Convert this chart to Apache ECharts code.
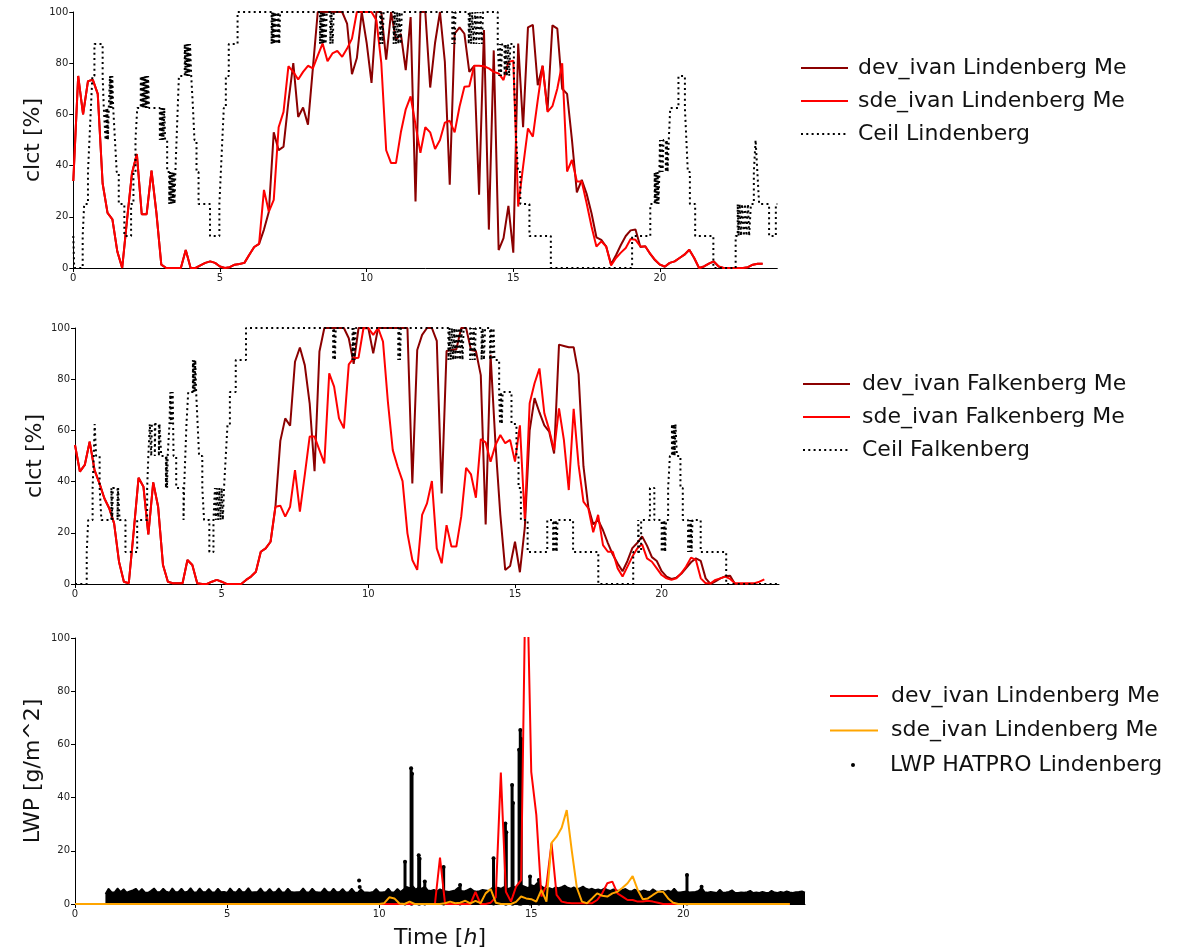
<!DOCTYPE html>
<html><head><meta charset="utf-8">
<script src="https://cdn.jsdelivr.net/npm/echarts@6/dist/echarts.min.js"></script>
<style>html,body{margin:0;padding:0;background:#fff}#c{width:1198px;height:950px}</style>
</head><body><div id="c"></div>
<script>
// ---- time step of model output (hours) ----
const MODEL_STEP_H = 1 / 6;
const xTicks = [0, 5, 10, 15, 20];

// ---- Panel 1 : Lindenberg cloud cover [%] ----
const devLind = [34,75,60,73,73.5,68,33,21.5,19,6.5, 0,19,37,44.5,21,21,38,21.5,1.3,0,
  0,0,0,7,0,0,1,2,2.6,2, 0.6,0,0.3,1.3,1.6,2,5.2,8.2,9.4,15,
  22,53,46,47.4,65,80,59,62.7,56,78, 100,100,100,100,100,100,95.5,75.7,82,100,
  88,72.3,100,100,81.4,100,89,91.5,77.3,98, 26,100,100,70.5,88,100,80.5,32.5,91.5,94,
  91.5,76.6,79,28.6,93,15,85,7,11.7,24.3, 6,87.7,55,94,95,71.4,79,61.7,94.8,93.5,
  70,68,50,29.5,34.4,29,21.4,12,11,8.4, 1.5,5,9,12.5,14.7,15,8.2,8.5,5.5,3,
  1.3,0.5,2,2.6,3.9,5.2,7.1,3.9,0,0.6, 1.7,2.6,0.6,0,0,0,0,0,0.3,1.3, 1.7,1.7];
const sdeLind = [34,75,60,73,73.5,68,33,21.5,19,6.5, 0,19,37,44.5,21,21,38,21.5,1.3,0,
  0,0,0,7,0,0,1,2,2.6,2, 0.6,0,0.3,1.3,1.6,2,5.2,8.2,9.4,30.5,
  22,26.6,55,61,78.8,76.6,73.6,76.6,79,78, 83,87.7,80.8,83.8,84.8,82.5,85.7,89.6,100,100,
  100,100,96.8,80,46,41,41,53,62,67, 56,45,55,53,46.5,50,56.8,57.5,53,63,
  70.8,71,79,79,78.8,78,76.6,76,73.4,80.5, 81,24,39.6,54.5,51.3,65.6,79,61,63.2,70,
  80,37.7,42.2,33.8,33.8,25.3,16.2,8.4,10.4,8.4, 1,3.9,6,7.8,11.3,11,8.4,8.4,5.6,3.2,
  1.3,0.6,2,2.6,3.9,5.2,7.1,3.9,0,0.6, 1.7,2.6,0.6,0,0,0,0,0,0.3,1.3, 1.7,1.7];
// ceilometer: [hour, value] held until next entry
const ceilLind = [[0,12.5],[0.03,0],[0.32,12.5],[0.37,25],[0.5,37.5],[0.55,50],[0.6,62.5],[0.65,75],[0.72,87.5],
  [1.0,75],[1.04,62.5],[1.1,50],[1.12,62.5],[1.14,50],[1.16,62.5],[1.18,50],[1.21,62.5],[1.25,75],[1.27,62.5],[1.29,75],[1.31,62.5],[1.33,75],[1.36,62.5],
  [1.42,50],[1.48,37.5],[1.55,25],[1.74,12.5],[1.97,25],[2.05,37.5],[2.12,50],[2.18,62.5],
  [2.3,75],[2.33,62.5],[2.35,75],[2.38,62.5],[2.4,75],[2.43,62.5],[2.45,75],[2.48,62.5],[2.5,75],[2.53,62.5],[2.55,75],[2.58,62.5],
  [2.95,50],[2.98,62.5],[3.01,50],[3.04,62.5],[3.07,50],[3.1,62.5],[3.13,50],[3.2,37.5],[3.27,25],[3.3,37.5],[3.33,25],[3.36,37.5],[3.39,25],[3.42,37.5],[3.45,25],[3.48,37.5],
  [3.52,50],[3.56,62.5],[3.6,75],[3.8,87.5],[3.83,75],[3.86,87.5],[3.89,75],[3.92,87.5],[3.95,75],[3.98,87.5],[4.02,75],[4.08,62.5],[4.13,50],[4.2,37.5],[4.27,25],
  [4.66,12.5],[4.98,25],[5.03,37.5],[5.08,50],[5.13,62.5],[5.2,75],[5.3,87.5],[5.6,100],
  [6.76,87.5],[6.78,100],[6.8,87.5],[6.82,100],[6.84,87.5],[6.87,100],[6.9,87.5],[6.93,100],[6.96,87.5],[6.99,100],[7.02,87.5],[7.05,100],
  [8.41,87.5],[8.44,100],[8.47,87.5],[8.5,100],[8.53,87.5],[8.56,100],[8.6,87.5],[8.64,100],[8.76,87.5],[8.8,100],[8.84,87.5],[8.88,100],
  [10.46,87.5],[10.5,100],[10.54,87.5],[10.58,100],[10.92,87.5],[10.96,100],[11.0,87.5],[11.04,100],[11.08,87.5],[11.12,100],[11.16,87.5],[11.2,100],
  [12.92,87.5],[12.96,100],[13.0,87.5],[13.03,100],
  [13.48,87.5],[13.52,100],[13.56,87.5],[13.6,100],[13.65,87.5],[13.7,100],[13.74,87.5],[13.78,100],[13.84,87.5],[13.88,100],[13.93,87.5],[13.97,100],
  [14.47,87.5],[14.52,75],[14.55,87.5],[14.58,75],[14.62,87.5],[14.7,75],[14.74,87.5],[14.78,75],[14.82,87.5],[14.86,75],[14.9,87.5],
  [15.02,75],[15.06,62.5],[15.1,50],[15.16,37.5],[15.24,25],[15.55,12.5],[16.28,0],[19.05,12.5],[19.67,25],
  [19.82,37.5],[19.84,25],[19.87,37.5],[19.89,25],[19.92,37.5],[19.95,25],[19.98,37.5],[20.0,50],[20.03,37.5],[20.06,50],[20.09,37.5],[20.12,50],[20.2,37.5],[20.23,50],[20.26,37.5],[20.3,50],
  [20.35,62.5],[20.63,75],[20.85,62.5],[20.9,50],[20.95,37.5],[21.02,25],[21.2,12.5],[21.82,0],[22.58,12.5],
  [22.65,25],[22.68,12.5],[22.72,25],[22.76,12.5],[22.8,25],[22.86,12.5],[22.9,25],[22.95,12.5],[23.0,25],[23.04,12.5],[23.1,25],
  [23.2,37.5],[23.26,50],[23.32,37.5],[23.38,25],[23.72,12.5],[23.95,25],[24,25]];

// ---- Panel 2 : Falkenberg cloud cover [%] ----
const devFalk = [54.3,43.9,46.5,55.6,44.5,39.3,33.5,29.6,23.7,8.7, 0.9,0.3,20.4,41.5,38,19.4,39.7,30.2,7.4,0.9,
  0.3,0.3,0.3,9.4,7.4,0.3,0,0,0.9,1.6, 0.9,0,0,0,0,1.6,2.9,4.8,12.6,13.9,
  16.5,30.2,55.9,64.7,61.8,86.8,92.4,85.5,70.6,44.1, 90.8,100,100,100,100,100,96,86,100,100,
  100,90.1,100,100,100,100,100,100,100,39.3, 91.4,97.3,100,100,95,35.4,91,91.4,91.7,100,
  100,91.4,91,81.6,23.3,89.5,55,27,5.5,7, 16.5,4.6,22,60,72.6,67,62,59.5,51,93.5,
  93,92.5,92.5,82,46,30,23.3,25,21,16, 11.5,8,5,9,14,16,18.6,15,10.5,9,
  5,2.9,2,2.5,4,6.2,8.5,10,9,2.2, 0,1,2.2,3,3.2,0,0,0,0];
const sdeFalk = [54.3,43.9,46.5,55.6,44.5,39.3,33.5,29.6,23.7,8.7, 0.9,0.3,20.4,41.5,38,19.4,39.7,30.2,7.4,0.9,
  0.3,0.3,0.3,9.4,7.4,0.3,0,0,0.9,1.6, 0.9,0,0,0,0,1.6,2.9,4.8,12.6,13.9,
  16.5,30.2,30.6,26.3,30.2,44.5,28.3,42.6,57.6,57.6, 52.3,47.1,82.3,77.1,64.7,60.8,85.8,88.2,88.4,99.9,
  100,97.3,100,94.7,71.2,52.3,45.8,40.2,19.8,9.4, 5.5,27,31.5,40.2,13.9,8.1,23,14.6,14.6,26.3,
  45.4,42.8,33.7,56.6,55.3,47.8,54.3,58.2,55,56.3, 47.8,62,25.4,70.6,78.4,84.2,66.7,60.2,52.3,68.6,
  56.3,36.7,68.4,46.5,32.2,29.6,20.2,27,15.2,12.6, 12.6,6.1,2.9,6.8,10.7,13.9,15.5,10,8.7,6.1,
  3.5,2.2,1.6,2.2,4.2,6.8,10.3,9.4,2.2,0.3, 0.3,1.6,2.2,2.9,2,0.3,0.3,0.3,0.3,0.3, 0.9,1.8];
const ceilFalk = [[0,0],[0.4,12.5],[0.45,25],[0.6,37.5],[0.64,50],[0.67,62.5],[0.72,50],[0.84,37.5],[0.9,25],
  [1.24,37.5],[1.27,25],[1.29,37.5],[1.45,25],[1.47,37.5],[1.52,25],[1.72,12.5],[2.12,25],[2.46,37.5],[2.5,50],[2.55,62.5],
  [2.6,50],[2.62,62.5],[2.72,50],[2.74,62.5],[2.86,50],[2.88,62.5],[2.94,50],[3.1,37.5],[3.12,50],[3.14,37.5],[3.16,50],
  [3.22,62.5],[3.25,75],[3.27,62.5],[3.29,75],[3.31,62.5],[3.33,75],[3.36,50],[3.45,37.5],[3.7,25],[3.72,37.5],[3.76,50],[3.8,62.5],[3.86,75],
  [4.02,87.5],[4.04,75],[4.06,87.5],[4.08,75],[4.1,87.5],[4.13,75],[4.18,62.5],[4.23,50],[4.34,37.5],[4.4,25],[4.58,12.5],[4.72,25],
  [4.77,37.5],[4.8,25],[4.84,37.5],[4.88,25],[4.92,37.5],[4.96,25],[5.0,37.5],[5.04,25],[5.08,37.5],[5.14,50],[5.2,62.5],[5.28,75],[5.48,87.5],[5.83,100],
  [8.8,87.5],[8.83,100],[8.86,87.5],[8.89,100],[9.46,87.5],[9.5,100],[9.53,87.5],[9.57,100],[11.02,87.5],[11.05,100],[11.08,87.5],[11.11,100],
  [12.73,87.5],[12.77,100],[12.81,87.5],[12.85,100],[12.89,87.5],[12.93,100],[12.97,87.5],[13.01,100],[13.05,87.5],[13.09,100],[13.13,87.5],[13.17,100],[13.21,87.5],[13.25,100],
  [13.47,87.5],[13.51,100],[13.55,87.5],[13.59,100],[13.63,87.5],[13.66,100],[13.86,87.5],[13.9,100],[13.94,87.5],[13.98,100],
  [14.15,87.5],[14.19,100],[14.23,87.5],[14.27,100],[14.3,87.5],[14.46,75],[14.49,62.5],[14.52,75],[14.55,62.5],[14.58,75],[14.88,62.5],
  [15.05,50],[15.12,37.5],[15.2,25],[15.43,12.5],[16.1,25],[16.3,12.5],[16.33,25],[16.36,12.5],[16.39,25],[16.42,12.5],[16.45,25],[16.98,12.5],
  [17.84,0],[19.03,12.5],[19.2,25],[19.23,12.5],[19.3,25],[19.6,37.5],[19.75,25],[20.0,12.5],[20.03,25],[20.06,12.5],[20.09,25],[20.12,12.5],[20.15,25],
  [20.22,37.5],[20.28,50],[20.35,62.5],[20.38,50],[20.41,62.5],[20.44,50],[20.47,62.5],[20.52,50],[20.64,37.5],[20.72,25],
  [20.9,12.5],[20.93,25],[20.96,12.5],[20.99,25],[21.02,12.5],[21.05,25],[21.33,12.5],[22.2,0],[24,0]];

// ---- Panel 3 : Lindenberg liquid water path [g/m^2] ----
const devLwp = [0,0,0,0,0,0,0,0,0,0, 0,0,0,0,0,0,0,0,0,0, 0,0,0,0,0,0,0,0,0,0, 0,0,0,0,0,0,0,0,0,0,
  0,0,0,0,0,0,0,0,0,0, 0,0,0,0,0,0,0,0,0,0, 0,0,0,0,0,0,0,0,0,0, 0,0,17.4,0,0,0,0,0,0,4.6,
  0,0,0.5,2.5,49.4,4.6,0.9,6.5,9,140, 49.7,33.5,2.8,7.1,22.8,3.4,0.9,0.5,0.3,0.3,
  0.3,0.3,0.3,1.5,4,7.8,8.4,4,2.8,1.5, 1.5,0.9,0.9,1.2,0.9,0.5,0,0,0,0,
  0,0,0,0,0,0,0,0,0,0, 0,0,0,0,0,0,0,0,0,0, 0,0];
const sdeLwp = [0,0,0,0,0,0,0,0,0,0, 0,0,0,0,0,0,0,0,0,0, 0,0,0,0,0,0,0,0,0,0, 0,0,0,0,0,0,0,0,0,0,
  0,0,0,0,0,0,0,0,0,0, 0,0,0,0,0,0,0,0,0,0, 0,0.3,2.5,2.1,0.2,0,0.9,0,0,0, 0,0,0,0.3,0.9,0.3,0.5,1.2,0.2,1.2,
  0.3,4,5.6,0.5,0,0,0,0.8,2.8,2.1, 1.8,0.9,5.3,0.9,23,25.3,28.7,35.3,20,6.1,
  0.9,0.3,2.1,4,3.1,2.8,4,4.6,6.1,7.8, 10.5,5.3,1.8,2.1,3.4,4.6,4.6,2.1,0.5,0,
  0,0,0,0,0,0,0,0,0,0, 0,0,0,0,0,0,0,0,0,0, 0,0];
// HATPRO: upper edge of the dense point cloud, every 0.1 h from 01:00
const hatBandStart = 1.0, hatBandStep = 0.1;
const hatBandTop = [3.8,5.8,4.5,4.4,5.9,4.6,5.6,4.3,4.8,5.2,
  5.8,4.5,5.7,4.4,4.3,5.0,5.9,4.5,4.6,5.8, 4.7,4.3,5.9,4.5,4.6,5.8,4.4,4.7,6.0,4.5,
  4.4,5.9,4.6,4.5,5.7,4.5,4.4,5.8,4.5,4.6, 4.3,5.9,4.6,4.4,5.8,4.5,4.6,6.0,4.4,4.5,
  4.6,5.9,4.4,4.5,5.7,4.4,4.6,5.9,4.5,4.4, 5.8,4.6,4.4,4.5,4.6,5.9,4.5,4.4,5.8,4.6,
  4.4,4.5,5.9,4.6,4.4,5.8,4.5,4.6,5.7,4.4, 4.5,5.8,4.4,4.3,5.6,4.5,4.4,4.3,4.6,5.7,
  4.5,4.4,4.6,5.8,4.4,4.5,5.7,4.6,5.5,6.5, 6.0,6.8,5.5,6.2,5.8,6.6,5.2,5.0,5.4,4.8,
  5.6,5.0,4.8,4.6,4.9,5.2,6.2,5.0,4.8,5.3, 5.9,5.0,4.7,4.9,5.4,5.2,5.0,6.0,5.5,6.2,
  5.8,6.4,5.6,6.0,6.6,6.2,6.8,7.0,6.5,6.0, 7.2,6.8,8.0,7.0,6.2,5.8,6.0,5.6,6.3,6.0,
  6.4,7.0,6.2,5.8,6.3,5.6,6.0,6.6,5.8,5.5, 5.8,5.3,5.6,5.2,5.9,5.4,5.0,5.6,5.2,5.0,
  5.4,5.7,5.0,4.8,5.5,5.0,4.7,5.2,4.8,4.6, 5.6,4.8,4.6,5.0,4.7,5.1,4.6,5.8,4.5,4.4,
  4.6,4.8,4.4,4.5,4.6,5.0,6.2,4.5,4.3,4.6, 4.4,4.2,5.4,4.3,4.4,4.6,5.2,4.3,4.2,4.4,
  4.3,4.5,5.0,4.2,4.4,4.2,4.6,4.3,4.2,5.0, 4.4,4.2,4.6,4.3,4.8,4.4,4.2,4.5,4.6,4.8, 4.3];
// HATPRO columns / isolated points: [hour, lowest value, highest value]
const hatSpikes = [[9.34,8.8,8.8],[9.36,6.4,6.4],[10.85,0,15.9],[11.05,0,51],[11.08,0,49],[11.3,0,18.3],[11.33,0,17],
  [11.5,0,8.5],[12.12,0,13.9],[12.66,0,7.1],[13.76,0,17.2],[14.15,0,30.3],[14.18,0,27],[14.37,0,44.7],[14.4,0,38],
  [14.6,0,58],[14.64,0,65.4],[14.67,0,62],[14.96,0,10.3],[15.25,0,9],[20.12,0,10.9],[20.6,6.5,6.5]];

// ---- names ----
const N = {
  devL: 'dev_ivan Lindenberg Me', sdeL: 'sde_ivan Lindenberg Me', ceilL: 'Ceil Lindenberg',
  devF: 'dev_ivan Falkenberg Me', sdeF: 'sde_ivan Falkenberg Me', ceilF: 'Ceil Falkenberg',
  hat: 'LWP HATPRO Lindenberg'
};

const toXY = arr => arr.map((v, i) => [i * MODEL_STEP_H, v]);
const band = hatBandTop.map((v, k) => [hatBandStart + k * hatBandStep, v]);

const FONT = 'DejaVu Sans';
const txt = '#111';
function xAx(gi, extra) {
  return Object.assign({
    type: 'value', gridIndex: gi, min: 0, max: 24,
    axisLine: { lineStyle: { color: '#000', width: 1 } },
    axisTick: { length: 4, lineStyle: { color: '#000' }, customValues: xTicks },
    axisLabel: { customValues: xTicks, fontSize: 10, color: '#222', margin: 5, fontFamily: FONT },
    splitLine: { show: false }
  }, extra || {});
}
function yAx(gi, name, gap) {
  return {
    type: 'value', gridIndex: gi, min: 0, max: 100, interval: 20,
    name: name, nameLocation: 'middle', nameGap: gap, nameMoveOverlap: false,
    nameTextStyle: { fontSize: 22, fontFamily: FONT, color: txt },
    axisLine: { show: true, lineStyle: { color: '#000', width: 1 } },
    axisTick: { show: true, length: 4, lineStyle: { color: '#000' } },
    axisLabel: { fontSize: 10, color: '#222', margin: 5, fontFamily: FONT },
    splitLine: { show: false }
  };
}
const lineS = (name, data, color, xi, z) => ({
  name, type: 'line', data, xAxisIndex: xi, yAxisIndex: xi, showSymbol: false, symbol: 'none',
  lineStyle: { color, width: 2 }, itemStyle: { color }, z: z || 2, silent: true
});
const ceilS = (name, data, xi) => ({
  name, type: 'line', step: 'end', data, xAxisIndex: xi, yAxisIndex: xi, showSymbol: false, symbol: 'none',
  lineStyle: { color: '#000', width: 2, type: [2, 3.3], cap: 'butt' }, itemStyle: { color: '#000' }, z: 4, silent: true
});

const legendText = (pad) => ({ fontSize: 22, fontFamily: FONT, color: txt, padding: [0, 0, 0, pad] });
const hideSym = { opacity: 0 };

const option = {
  animation: false,
  backgroundColor: '#fff',
  grid: [
    { left: 73.3, top: 12, width: 704, height: 256 },
    { left: 75, top: 328, width: 704, height: 256 },
    { left: 75, top: 638, width: 730, height: 266 }
  ],
  xAxis: [xAx(0), xAx(1), xAx(2, {
    name: 'Time [{i|h}]', nameLocation: 'middle', nameGap: 23, nameMoveOverlap: false,
    nameTextStyle: { fontSize: 22, fontFamily: FONT, color: txt,
      rich: { i: { fontSize: 22, fontFamily: FONT, fontStyle: 'italic', color: txt } } }
  })],
  yAxis: [yAx(0, 'clct [%]', 29), yAx(1, 'clct [%]', 29), yAx(2, 'LWP [g/m^2]', 31)],
  legend: [
    { orient: 'vertical', left: 795, top: 52, itemWidth: 47, itemHeight: 14, itemGap: 11, selectedMode: false,
      itemStyle: hideSym, textStyle: legendText(5), data: [N.devL, N.sdeL, N.ceilL] },
    { orient: 'vertical', left: 797, top: 368, itemWidth: 47, itemHeight: 14, itemGap: 11, selectedMode: false,
      itemStyle: hideSym, textStyle: legendText(7), data: [N.devF, N.sdeF, N.ceilF] },
    { orient: 'vertical', left: 824, top: 680, itemWidth: 48, itemHeight: 14, itemGap: 12.5, selectedMode: false,
      textStyle: legendText(8),
      data: [
        { name: N.devL, itemStyle: { color: '#ff0000', opacity: 0 }, lineStyle: { color: '#ff0000', width: 2 } },
        { name: N.sdeL, itemStyle: { color: '#ffa500', opacity: 0 }, lineStyle: { color: '#ffa500', width: 2 } }
      ] },
    { orient: 'vertical', left: 846, top: 749, itemWidth: 4, itemHeight: 4, selectedMode: false,
      textStyle: legendText(30),
      data: [{ name: N.hat, icon: 'circle', itemStyle: { color: '#000', opacity: 1 } }] }
  ],
  graphic: [
    { type: 'rect', left: 1166, top: 740, shape: { width: 40, height: 50 }, style: { fill: '#fff' }, z: 100 }
  ],
  series: [
    lineS(N.devL, toXY(devLind), '#8b0000', 0),
    lineS(N.sdeL, toXY(sdeLind), '#ff0000', 0, 3),
    ceilS(N.ceilL, ceilLind, 0),
    lineS(N.devF, toXY(devFalk), '#8b0000', 1),
    lineS(N.sdeF, toXY(sdeFalk), '#ff0000', 1, 3),
    ceilS(N.ceilF, ceilFalk, 1),
    {
      name: N.hat, type: 'line', data: band, xAxisIndex: 2, yAxisIndex: 2, showSymbol: false, symbol: 'none',
      lineStyle: { color: '#000', width: 1.5 }, areaStyle: { color: '#000', opacity: 1 }, itemStyle: { color: '#000' }, z: 1, silent: true
    },
    {
      name: N.hat, type: 'custom', data: hatSpikes, xAxisIndex: 2, yAxisIndex: 2, z: 1, silent: true,
      itemStyle: { color: '#000' },
      renderItem: function (params, api) {
        const p0 = api.coord([api.value(0), api.value(1)]);
        const p1 = api.coord([api.value(0), api.value(2)]);
        return { type: 'group', children: [
          { type: 'line', shape: { x1: p0[0], y1: p0[1], x2: p1[0], y2: p1[1] }, style: { stroke: '#000', lineWidth: 3, lineCap: 'round' } },
          { type: 'circle', shape: { cx: p1[0], cy: p1[1], r: 2 }, style: { fill: '#000' } }
        ] };
      }
    },
    lineS(N.devL, toXY(devLwp), '#ff0000', 2, 3),
    lineS(N.sdeL, toXY(sdeLwp), '#ffa500', 2, 4)
  ]
};
const chart = echarts.init(document.getElementById('c'), null, { renderer: 'canvas' });
chart.setOption(option);
</script>
</body></html>
